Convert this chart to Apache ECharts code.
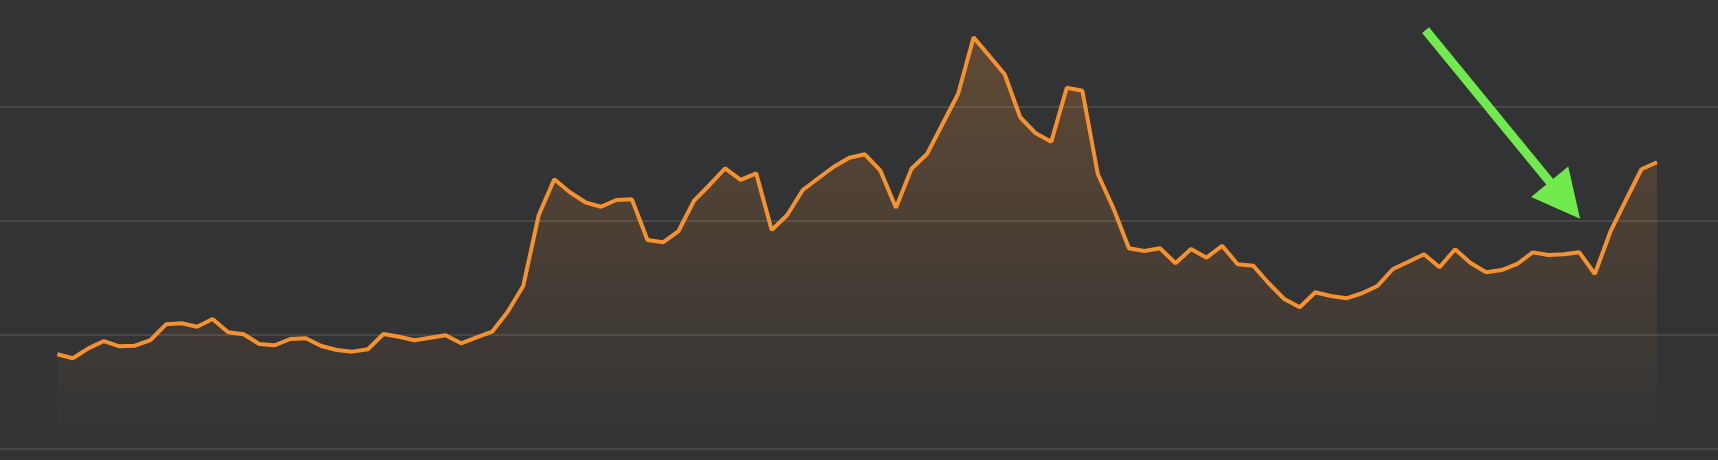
<!DOCTYPE html>
<html>
<head>
<meta charset="utf-8">
<script src="https://cdn.jsdelivr.net/npm/echarts@6.0.0/dist/echarts.min.js"></script>
<style>
  html, body { margin: 0; padding: 0; background: #323335; }
  #chart { width: 1718px; height: 460px; }
</style>
</head>
<body>
<div id="chart"></div>
<script>
// values, one per step
const values = [
  83.1, 79.6, 88.3, 94.7, 90.1, 90.6, 95.6, 109.4, 110.3, 107.3,
  114.0, 102.4, 100.6, 92.1, 91.0, 96.5, 97.1, 90.4, 86.8, 85.4,
  87.5, 100.9, 98.5, 95.4, 97.6, 99.7, 92.7, 98.0, 102.9, 120.4,
  143.0, 205.3, 236.6, 225.2, 216.4, 212.5, 218.4, 219.0, 183.3, 181.3,
  191.2, 217.8, 231.6, 246.2, 236.0, 241.8, 192.1, 205.3, 227.2, 237.5,
  247.6, 255.5, 258.5, 244.1, 211.7, 245.9, 258.8, 285.1, 311.4, 361.1,
  345.0, 328.7, 291.0, 276.9, 269.6, 316.9, 314.3, 241.0, 211.1, 176.1,
  173.7, 176.1, 162.9, 175.4, 167.8, 178.3, 162.0, 160.8, 145.4, 131.6,
  124.3, 137.5, 134.2, 132.2, 136.6, 143.0, 157.9, 164.3, 170.8, 159.4,
  175.2, 163.2, 155.0, 157.0, 162.3, 172.5, 170.2, 170.8, 172.5, 153.5,
  190.6, 218.4, 245.4, 251.5
];

// green arrow annotation, [step, value]
const arrowFrom = [88.1, 367.5];
const arrowTo = [97.07, 218.2];

const seriesData = values.map((v, i) => [i, v]);

let myChart = echarts.init(document.getElementById('chart'));
let option = {
  backgroundColor: '#323335',
  animation: false,
  grid: {
    left: 0,
    right: 0,
    top: 0,
    bottom: 11
  },
  xAxis: {
    type: 'value',
    min: -3.69,
    max: 106.93,
    axisLine: {show: true, lineStyle: {color: '#47484b', width: 2}},
    axisTick: {show: false},
    axisLabel: {show: false},
    splitLine: {show: false}
  },
  yAxis: {
    type: 'value',
    min: 0,
    max: 393.86,
    interval: 100,
    axisLine: {show: false},
    axisTick: {show: false},
    axisLabel: {show: false},
    splitLine: {
      show: true,
      showMaxLine: false,
      lineStyle: {color: '#47484b', width: 2}
    }
  },
  series: [
    {
      type: 'line',
      data: seriesData,
      symbol: 'none',
      lineStyle: {color: '#f5922f', width: 4},
      areaStyle: {
        color: new echarts.graphic.LinearGradient(0, 0, 0, 1, [
          {offset: 0, color: 'rgba(245,146,47,0.34)'},
          {offset: 1, color: 'rgba(245,146,47,0)'}
        ])
      },
      markLine: {
        silent: true,
        animation: false,
        symbol: ['none', 'triangle'],
        symbolSize: 48,
        label: {show: false},
        lineStyle: {color: '#70ea4d', width: 9, type: 'solid'},
        emphasis: {disabled: true},
        data: [
          [{coord: arrowFrom}, {coord: arrowTo}]
        ]
      }
    }
  ]
};
myChart.setOption(option);
</script>
</body>
</html>
